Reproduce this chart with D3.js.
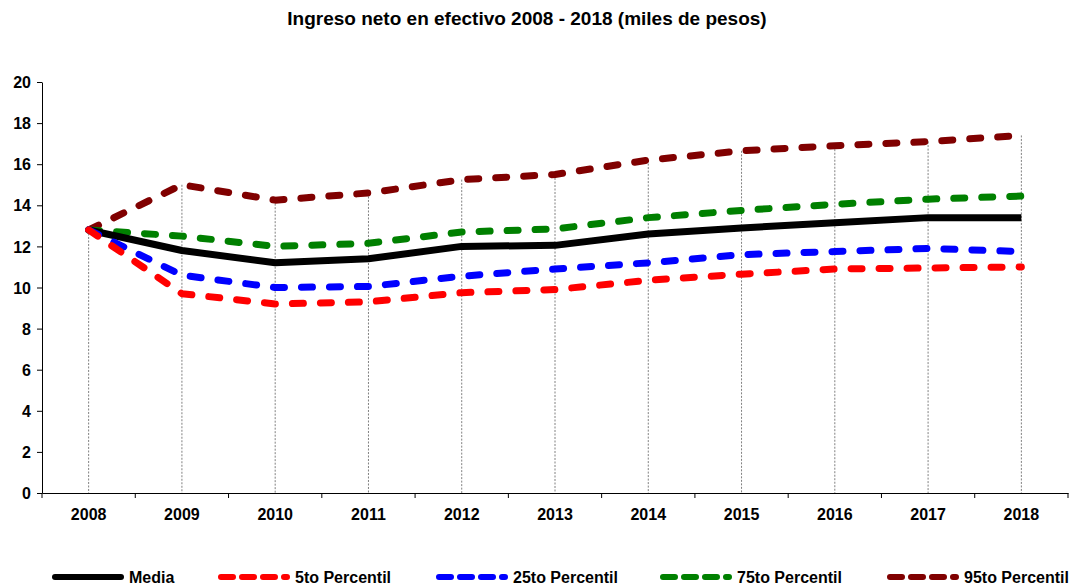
<!DOCTYPE html>
<html><head><meta charset="utf-8">
<script src="https://cdn.jsdelivr.net/npm/d3@7"></script>
<style>body{margin:0;background:#fff}text{font-family:"Liberation Sans",Arial,sans-serif}</style>
</head><body><svg id="c" width="1070" height="586"></svg>
<script>
const years = ["2008","2009","2010","2011","2012","2013","2014","2015","2016","2017","2018"];
const media = [12.8,11.8,11.2,11.4,12.0,12.05,12.6,12.9,13.15,13.4,13.4];
const p5 = [12.8,9.7,9.2,9.3,9.75,9.9,10.35,10.65,10.9,10.95,11.0];
const p25 = [12.8,10.6,10.0,10.05,10.55,10.9,11.2,11.6,11.75,11.9,11.75];
const p75 = [12.8,12.5,12.0,12.15,12.7,12.85,13.4,13.75,14.05,14.3,14.45];
const p95 = [12.8,15.0,14.25,14.6,15.25,15.5,16.2,16.65,16.9,17.1,17.4];
const yTicks = [0,2,4,6,8,10,12,14,16,18,20];
const seriesNames = ["Media","5to Percentil","25to Percentil","75to Percentil","95to Percentil"];
const seriesVals = [media,p5,p25,p75,p95];
const colors = ["#000000","#ff0000","#0000ff","#008000","#800000"];
const dashed = [false,true,true,true,true];

const svg = d3.select("#c");
const L=42,R=1068,T=82,B=493;
const x = d3.scaleBand().domain(years).range([L,R]);
const y = d3.scaleLinear().domain([0,20]).range([B,T]);

svg.append("text").attr("x",527).attr("y",25).attr("text-anchor","middle")
  .style("font-size","19px").style("font-weight","bold").text("Ingreso neto en efectivo 2008 - 2018 (miles de pesos)");

// drop lines
years.forEach((yr,i)=>{
  const mx = d3.max(seriesVals, s=>s[i]);
  svg.append("line").attr("x1",x(yr)+x.bandwidth()/2).attr("x2",x(yr)+x.bandwidth()/2)
    .attr("y1",y(mx)).attr("y2",B).attr("stroke","#808080").attr("stroke-width",1)
    .attr("stroke-dasharray","2,1.5");
});

// y axis
const ya = svg.append("g").attr("transform",`translate(${L},0)`)
  .call(d3.axisLeft(y).tickValues(yTicks).tickSize(5).tickSizeOuter(0));
ya.select(".domain").attr("stroke","#000");
ya.selectAll("text").style("font-size","16px").style("font-weight","bold").style("font-family","Liberation Sans, Arial").attr("dx",-3).attr("dy","0.35em");

// x axis
const xa = svg.append("g").attr("transform",`translate(0,${B})`)
  .call(d3.axisBottom(x).tickSize(0).tickSizeOuter(0));
xa.select(".domain").attr("stroke","#000");
xa.selectAll("text").style("font-size","16px").style("font-weight","bold").style("font-family","Liberation Sans, Arial").attr("dy","0").attr("y",27);
xa.selectAll(".btick").data(years).enter().append("line")
  .attr("x1",d=>x(d)).attr("x2",d=>x(d)).attr("y1",0).attr("y2",5).attr("stroke","#000");
xa.append("line").attr("x1",R).attr("x2",R).attr("y1",0).attr("y2",5).attr("stroke","#000");

const line = d3.line().x((d,i)=>x(years[i])+x.bandwidth()/2).y(d=>y(d));
const order=[4,3,0,2,1];
order.forEach(k=>{
  svg.append("path").datum(seriesVals[k]).attr("d",line).attr("fill","none")
    .attr("stroke",colors[k]).attr("stroke-width",7)
    .attr("stroke-linecap",dashed[k]?"round":"butt").attr("stroke-linejoin","round")
    .attr("stroke-dasharray",dashed[k]?"11,17":null);
});

// legend
const lx=[52,218,436,660,887];
seriesNames.forEach((n,k)=>{
  const g=svg.append("g").attr("transform",`translate(${lx[k]},577)`);
  g.append("line").attr("x1",3).attr("x2",69).attr("y1",0).attr("y2",0)
    .attr("stroke",colors[k]).attr("stroke-width",6)
    .attr("stroke-linecap","round")
    .attr("stroke-dasharray",dashed[k]?"12,9":null);
  g.append("text").attr("x",77).attr("y",6).style("font-size","16px").style("font-weight","bold").text(n);
});
</script></body></html>
